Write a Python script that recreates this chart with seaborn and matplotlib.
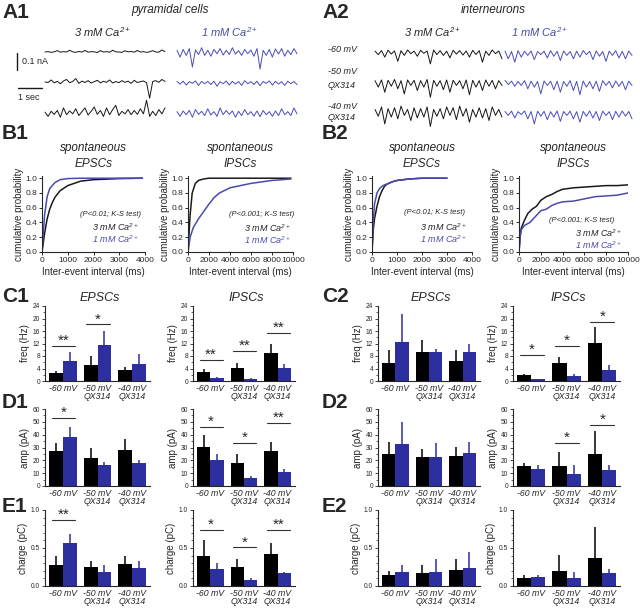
import numpy as np
import pandas as pd
import seaborn as sns
import matplotlib.pyplot as plt
from matplotlib.ticker import MultipleLocator

# ---------------- data ----------------
groups = ['-60 mV', '-50 mV\nQX314', '-40 mV\nQX314']

# raw current traces (pA), 40 samples over 5 s
a1_black = [
    [0, 2, -2, 1, 8, -1, 2, 0, 10, 1, -2, 3, 0, 9, -1, 2, 1, -3, 8, 0, 2, -1, 10, 1, 0, -2, 7, 1, 3, -1, 9, 0, 2, -2, 1, 8, 0, -1, 12, 2],
    [0, -3, 12, -5, 4, -10, 6, 15, -4, 3, 20, -8, 5, -3, 8, -6, 2, 10, -5, 4, -2, 12, -6, 3, -4, 8, -2, 5, -8, 10, -3, 2, 6, -4, -95, 3, 8, -2, 15, 3],
    [5, -20, 10, -8, 15, -25, 30, -10, 12, -5, 25, -15, 8, 30, -12, 10, 35, -8, 15, -20, 30, -10, 20, 45, -15, 10, -5, 20, -10, 15, -8, 25, -5, 75, -20, 10, -15, 20, -5, 30],
]
a1_blue = [
    [10, -30, 15, -20, 20, -88, 12, -15, 25, -20, 10, -25, 15, -10, 20, -18, 10, -15, 25, -12, 8, -20, 15, -10, 12, -25, 20, -100, 10, -20, 15, -30, 18, -12, 20, -25, 10, -15, 20, -10],
    [3, -12, 5, -18, 2, -8, 6, -20, 3, -10, 4, -15, 5, -25, 2, -10, 6, -18, 4, -12, 3, -20, 8, -10, 2, -15, 5, -22, 3, -8, 6, -18, 4, -12, 2, -20, 5, -10, 3, -15],
    [8, -20, 12, -10, 15, -25, 20, -8, 10, -15, 25, -12, 8, -20, 30, -10, 15, -8, 12, -25, 10, -15, 20, -10, 8, -18, 12, -22, 15, -10, 8, -20, 12, -15, 25, -10, 8, -15, 30, -5],
]
a2_black = [
    [5, -15, 8, -30, 10, -12, 6, -55, 8, -20, 12, -10, 5, -25, 10, -8, 6, -70, 12, -15, 8, -20, 5, -35, 10, -12, 8, -18, 6, -30, 10, -15, 8, -60, 5, -20, 12, -10, 6, -40],
    [8, -30, 12, -60, 10, -25, 15, -40, 8, -70, 12, -20, 10, -50, 8, -30, 15, -90, 10, -25, 8, -45, 12, -60, 10, -20, 8, -40, 12, -75, 10, -30, 8, -50, 12, -25, 10, -40, 8, -20],
    [15, -25, 30, -70, 20, -30, 25, -40, 35, -20, 15, -50, 25, -35, 20, -30, 30, -85, 15, -25, 20, -40, 30, -20, 25, -45, 35, -25, 20, -60, 15, -30, 25, -35, 20, -50, 30, -20, 15, -30],
]
a2_blue = [
    [5, -40, 3, -60, 8, -30, 4, -20, 6, -45, 3, -15, 5, -35, 8, -25, 4, -50, 6, -20, 3, -40, 5, -30, 8, -15, 4, -45, 6, -25, 3, -55, 5, -20, 8, -35, 4, -40, 6, -20],
    [10, -15, 5, -25, 3, -20, 8, -40, 5, -30, 3, -70, 6, -20, 4, -45, 5, -60, 3, -25, 8, -50, 4, -75, 6, -30, 3, -40, 5, -55, 8, -20, 4, -35, 6, -25, 3, -45, 5, -20],
    [3, -20, 5, -35, 2, -15, 6, -40, 3, -70, 5, -25, 4, -45, 2, -30, 6, -55, 3, -20, 5, -40, 2, -60, 4, -25, 6, -35, 3, -50, 5, -20, 2, -45, 4, -30, 6, -25, 3, -40],
]

# cumulative distributions (interval ms, probability)
b1_epsc_x3 = [0, 100, 200, 300, 400, 500, 700, 1000, 1500, 2000, 3000, 3900]
b1_epsc_y3 = [0, 0.25, 0.45, 0.58, 0.67, 0.74, 0.83, 0.9, 0.96, 0.98, 0.995, 1.0]
b1_epsc_x1 = [0, 100, 200, 300, 500, 700, 1000, 1500, 3900]
b1_epsc_y1 = [0, 0.5, 0.75, 0.86, 0.94, 0.98, 0.995, 1.0, 1.0]
b1_ipsc_x3 = [0, 200, 400, 700, 1000, 1500, 2000, 9800]
b1_ipsc_y3 = [0, 0.5, 0.8, 0.93, 0.97, 0.99, 1.0, 1.0]
b1_ipsc_x1 = [0, 200, 500, 1000, 1500, 2000, 2500, 3000, 4000, 5000, 6000, 7000, 8000, 9000, 9800]
b1_ipsc_y1 = [0, 0.2, 0.33, 0.45, 0.55, 0.65, 0.74, 0.8, 0.87, 0.9, 0.93, 0.95, 0.97, 0.98, 0.99]
b2_epsc_x3 = [0, 50, 100, 200, 300, 400, 500, 600, 800, 1000, 1500, 2000, 3000]
b2_epsc_y3 = [0, 0.3, 0.45, 0.62, 0.75, 0.83, 0.89, 0.92, 0.95, 0.97, 0.99, 1.0, 1.0]
b2_epsc_x1 = [0, 50, 100, 200, 300, 400, 500, 600, 800, 1000, 1500, 2000, 3000]
b2_epsc_y1 = [0, 0.4, 0.65, 0.8, 0.86, 0.89, 0.91, 0.92, 0.95, 0.97, 0.99, 1.0, 1.0]
b2_ipsc_x3 = [0, 100, 200, 500, 800, 1200, 1600, 2000, 2500, 3000, 3500, 4000, 5000, 6000, 7000, 8000, 9000, 10000]
b2_ipsc_y3 = [0, 0.2, 0.32, 0.43, 0.52, 0.58, 0.62, 0.7, 0.75, 0.78, 0.82, 0.85, 0.87, 0.88, 0.89, 0.9, 0.9, 0.91]
b2_ipsc_x1 = [0, 100, 200, 500, 1000, 1500, 2000, 2500, 3000, 3500, 4000, 5000, 6000, 7000, 8000, 9000, 10000]
b2_ipsc_y1 = [0, 0.2, 0.3, 0.36, 0.4, 0.48, 0.56, 0.58, 0.63, 0.66, 0.68, 0.69, 0.72, 0.75, 0.76, 0.77, 0.8]

# bar means and SEM (3 mM / 1 mM Ca)
c1_epsc_3mM = [2.5, 5.2, 3.4]; c1_epsc_3mM_sem = [0.8, 2.8, 1.2]
c1_epsc_1mM = [6.3, 11.5, 5.6]; c1_epsc_1mM_sem = [3.1, 4.6, 3.0]
c1_ipsc_3mM = [2.8, 4.1, 9.0]; c1_ipsc_3mM_sem = [0.9, 1.6, 2.7]
c1_ipsc_1mM = [0.95, 0.7, 4.1]; c1_ipsc_1mM_sem = [0.2, 0.15, 1.4]
c2_epsc_3mM = [5.7, 9.2, 6.4]; c2_epsc_3mM_sem = [4.2, 3.8, 3.5]
c2_epsc_1mM = [12.5, 9.4, 9.4]; c2_epsc_1mM_sem = [9.0, 1.0, 2.4]
c2_ipsc_3mM = [1.9, 5.7, 12.3]; c2_ipsc_3mM_sem = [0.4, 2.1, 5.0]
c2_ipsc_1mM = [0.65, 1.5, 3.4]; c2_ipsc_1mM_sem = [0.1, 0.8, 1.6]
d1_epsc_3mM = [27.3, 22.1, 27.9]; d1_epsc_3mM_sem = [6.3, 7.3, 9.1]
d1_epsc_1mM = [37.8, 16.1, 18.0]; d1_epsc_1mM_sem = [8.2, 2.6, 2.6]
d1_ipsc_3mM = [30.5, 18.2, 27.3]; d1_ipsc_3mM_sem = [9.1, 7.1, 7.1]
d1_ipsc_1mM = [20.6, 6.3, 10.9]; d1_ipsc_1mM_sem = [4.7, 1.2, 2.1]
d2_epsc_3mM = [25.3, 22.7, 23.2]; d2_epsc_3mM_sem = [9.1, 6.5, 7.3]
d2_epsc_1mM = [33.0, 22.7, 25.8]; d2_epsc_1mM_sem = [17.0, 10.9, 8.6]
d2_ipsc_3mM = [15.4, 15.6, 25.3]; d2_ipsc_3mM_sem = [2.6, 11.0, 17.4]
d2_ipsc_1mM = [13.5, 9.1, 12.2]; d2_ipsc_1mM_sem = [3.2, 7.6, 4.5]
e1_epsc_3mM = [0.27, 0.25, 0.29]; e1_epsc_3mM_sem = [0.12, 0.08, 0.10]
e1_epsc_1mM = [0.56, 0.19, 0.235]; e1_epsc_1mM_sem = [0.13, 0.09, 0.095]
e1_ipsc_3mM = [0.39, 0.245, 0.42]; e1_ipsc_3mM_sem = [0.22, 0.105, 0.14]
e1_ipsc_1mM = [0.22, 0.085, 0.17]; e1_ipsc_1mM_sem = [0.08, 0.025, 0.01]
e2_epsc_3mM = [0.14, 0.17, 0.21]; e2_epsc_3mM_sem = [0.06, 0.10, 0.14]
e2_epsc_1mM = [0.18, 0.19, 0.24]; e2_epsc_1mM_sem = [0.09, 0.16, 0.21]
e2_ipsc_3mM = [0.11, 0.20, 0.37]; e2_ipsc_3mM_sem = [0.03, 0.21, 0.40]
e2_ipsc_1mM = [0.12, 0.10, 0.17]; e2_ipsc_1mM_sem = [0.02, 0.08, 0.06]

# significance (group, line height, stars)
c1_epsc_sig = [(0, 11.2, '**'), (1, 18.1, '*')]
c1_ipsc_sig = [(0, 6.7, '**'), (1, 9.7, '**'), (2, 15.5, '**')]
c2_ipsc_sig = [(0, 8.3, '*'), (1, 11.3, '*'), (2, 18.9, '*')]
d1_epsc_sig = [(0, 53, '*')]
d1_ipsc_sig = [(0, 46, '*'), (1, 33.5, '*'), (2, 49, '**')]
d2_ipsc_sig = [(1, 33.5, '*'), (2, 47.5, '*')]
e1_epsc_sig = [(0, 0.87, '**')]
e1_ipsc_sig = [(0, 0.74, '*'), (1, 0.51, '*'), (2, 0.74, '**')]

# ---------------- style ----------------
sns.set_theme(style='ticks')
plt.rcParams['font.family'] = ['Liberation Sans', 'DejaVu Sans']
plt.rcParams['mathtext.fontset'] = 'custom'
plt.rcParams['mathtext.rm'] = 'Liberation Sans:italic'
plt.rcParams['mathtext.it'] = 'Liberation Sans:italic'
plt.rcParams['axes.linewidth'] = 0.8

BLACK = '#000000'
BLUE = '#2d2f9f'
TBLUE = '#4a4cbc'
LBLUE = '#4a4aae'
CA3 = '3 mM Ca$^{2+}$'
CA1 = '1 mM Ca$^{2+}$'

W, H = 640, 610
fig = plt.figure(figsize=(6.4, 6.1), dpi=100)


def px_axes(l, t, r, b):
    return fig.add_axes([l / W, 1 - b / H, (r - l) / W, (b - t) / H])


def px_text(x, y, s, **kw):
    kw.setdefault('ha', 'center')
    kw.setdefault('va', 'center')
    fig.text(x / W, 1 - y / H, s, **kw)


# panel letters
for lab, x, y in [('A1', 2, 12), ('A2', 322, 12), ('B1', 2, 134), ('B2', 322, 134),
                  ('C1', 2, 296), ('C2', 322, 296), ('D1', 2, 402), ('D2', 322, 402),
                  ('E1', 2, 506), ('E2', 322, 506)]:
    px_text(x, y, lab, ha='left', fontsize=15, fontweight='bold')

# ---------------- A: traces ----------------
PA_PER_PX = 5.88


def trace_axes(l, r, t0px, pxs):
    ax = px_axes(l, 38, r, 128)
    ax.set_xlim((l - t0px) / pxs, (r - t0px) / pxs)
    ax.set_ylim(-(128 - 38) * PA_PER_PX, 0)
    ax.axis('off')
    return ax


def draw_traces(ax, rows_black, rows_blue, blue_start, row_px):
    for vals_k, vals_b, ypx in zip(rows_black, rows_blue, row_px):
        base = -(ypx - 38) * PA_PER_PX
        t = np.linspace(0, 5, len(vals_k))
        ax.plot(t, base + np.array(vals_k), color='#151515', lw=0.7)
        ax.plot(blue_start + t, base + np.array(vals_b), color=TBLUE, lw=0.7)


ax_a1 = trace_axes(8, 305, 45, 24.0)
draw_traces(ax_a1, a1_black, a1_blue, (177 - 45) / 24.0, [52, 82, 113])
# scale bars
ax_a1.plot([(17 - 45) / 24.0] * 2, [-(53 - 38) * PA_PER_PX, -(53 - 38) * PA_PER_PX - 100], color='k', lw=1)
ax_a1.plot([(18 - 45) / 24.0, (18 - 45) / 24.0 + 1], [-(88 - 38) * PA_PER_PX] * 2, color='k', lw=1)
px_text(22, 62, '0.1 nA', ha='left', fontsize=6.5)
px_text(18, 98, '1 sec', ha='left', fontsize=6.5)
px_text(170, 10, 'pyramidal cells', fontsize=8.5, style='italic')
px_text(103, 32, CA3, fontsize=8, style='italic')
px_text(230, 32, CA1, fontsize=8, style='italic', color=LBLUE)

ax_a2 = trace_axes(372, 636, 375, 25.4)
draw_traces(ax_a2, a2_black, a2_blue, (505 - 375) / 25.4, [52, 82, 112])
px_text(493, 10, 'interneurons', fontsize=8.5, style='italic')
px_text(433, 32, CA3, fontsize=8, style='italic')
px_text(540, 32, CA1, fontsize=8, style='italic', color=LBLUE)
for txt, y in [('-60 mV', 50), ('-50 mV', 72), ('QX314', 85), ('-40 mV', 106), ('QX314', 118)]:
    px_text(328, y, txt, ha='left', fontsize=6.5, style='italic')

# ---------------- B: cumulative ----------------


def cum_panel(ax, x3, y3, x1, y1, xmax, xticks):
    sns.lineplot(x=x3, y=y3, color='k', lw=1.1, estimator=None, sort=False, ax=ax)
    sns.lineplot(x=x1, y=y1, color=LBLUE, lw=1.1, estimator=None, sort=False, ax=ax)
    ax.set_xlim(0, xmax)
    ax.set_ylim(0, 1.03)
    ax.set_xticks(xticks)
    ax.set_yticks([0, 0.2, 0.4, 0.6, 0.8, 1.0])
    ax.set_yticklabels(['0.0', '0.2', '0.4', '0.6', '0.8', '1.0'])
    ax.tick_params(labelsize=6, length=2.5, width=0.7, pad=1)
    ax.set_xlabel('Inter-event interval (ms)', fontsize=7, labelpad=2)
    ax.set_ylabel('cumulative probability', fontsize=7, labelpad=1)
    sns.despine(ax=ax)


b_specs = [
    (42, 145, b1_epsc_x3, b1_epsc_y3, b1_epsc_x1, b1_epsc_y1, 4000, [0, 1000, 2000, 3000, 4000], 'EPSCs', '(P<0.01; K-S test)', (110, 214), (115, 227)),
    (188, 293, b1_ipsc_x3, b1_ipsc_y3, b1_ipsc_x1, b1_ipsc_y1, 10000, [0, 2000, 4000, 6000, 8000, 10000], 'IPSCs', '(P<0.001; K-S test)', (262, 214), (267, 228)),
    (372, 472, b2_epsc_x3, b2_epsc_y3, b2_epsc_x1, b2_epsc_y1, 4000, [0, 1000, 2000, 3000, 4000], 'EPSCs', '(P<0.01; K-S test)', (435, 213), (443, 227)),
    (519, 628, b2_ipsc_x3, b2_ipsc_y3, b2_ipsc_x1, b2_ipsc_y1, 10000, [0, 2000, 4000, 6000, 8000, 10000], 'IPSCs', '(P<0.001; K-S test)', (582, 221), (598, 233)),
]
for l, r, x3, y3, x1, y1, xmax, xt, ttl, ptxt, ppos, cpos in b_specs:
    ax = px_axes(l, 176, r, 252)
    cum_panel(ax, x3, y3, x1, y1, xmax, xt)
    px_text((l + r) / 2, 148, 'spontaneous', fontsize=8.5, style='italic')
    px_text((l + r) / 2, 164, ttl, fontsize=8.5, style='italic')
    px_text(ppos[0], ppos[1], ptxt, fontsize=5.5, style='italic')
    px_text(cpos[0], cpos[1], CA3, fontsize=6.5, style='italic')
    px_text(cpos[0], cpos[1] + 12, CA1, fontsize=6.5, style='italic', color=LBLUE)

# ---------------- C-E: bars ----------------


def bar_panel(ax, m3, s3, m1, s1, sig, ymax, major, minor, ylabel, fmt):
    df = pd.DataFrame({'group': groups * 2,
                       'cond': ['3 mM'] * 3 + ['1 mM'] * 3,
                       'value': m3 + m1})
    sns.barplot(data=df, x='group', y='value', hue='cond', hue_order=['3 mM', '1 mM'],
                palette={'3 mM': BLACK, '1 mM': BLUE}, errorbar=None, saturation=1,
                width=0.8, legend=False, linewidth=0, ax=ax)
    for cont, sems, col in zip(ax.containers, [s3, s1], [BLACK, BLUE]):
        for bar, e in zip(cont, sems):
            xc = bar.get_x() + bar.get_width() / 2
            ax.vlines(xc, bar.get_height(), bar.get_height() + e, color=col, lw=1.1)
    for g, y, stars in sig:
        ax.plot([g - 0.32, g + 0.36], [y, y], color='#333333', lw=0.8)
        ax.annotate(stars, (g + 0.02, y), xytext=(0, -1.5), textcoords='offset points',
                    ha='center', va='bottom', fontsize=11, annotation_clip=False)
    ax.set_xlim(-0.52, 2.52)
    ax.set_ylim(0, ymax)
    ax.yaxis.set_major_locator(MultipleLocator(major))
    ax.yaxis.set_minor_locator(MultipleLocator(minor))
    ax.yaxis.set_major_formatter(fmt)
    ax.tick_params(axis='y', which='major', labelsize=4.8, length=2.5, width=0.6, pad=1)
    ax.tick_params(axis='y', which='minor', length=1.5, width=0.5)
    ax.tick_params(axis='x', length=0, labelsize=6.3, pad=2)
    for t in ax.get_xticklabels():
        t.set_fontstyle('italic')
        t.set_linespacing(0.95)
    ax.set_xlabel('')
    ax.set_ylabel(ylabel, fontsize=7, labelpad=2)
    sns.despine(ax=ax)


cols = [(45, 150), (193, 295), (378, 480), (513, 620)]
rows = [(306, 381, 24, 4, 2, 'freq (Hz)', '{x:.0f}'),
        (409, 486, 60, 10, 5, 'amp (pA)', '{x:.0f}'),
        (510, 586, 1.0, 0.5, 0.1, 'charge (pC)', '{x:.1f}')]
bar_data = [
    [(c1_epsc_3mM, c1_epsc_3mM_sem, c1_epsc_1mM, c1_epsc_1mM_sem, c1_epsc_sig),
     (c1_ipsc_3mM, c1_ipsc_3mM_sem, c1_ipsc_1mM, c1_ipsc_1mM_sem, c1_ipsc_sig),
     (c2_epsc_3mM, c2_epsc_3mM_sem, c2_epsc_1mM, c2_epsc_1mM_sem, []),
     (c2_ipsc_3mM, c2_ipsc_3mM_sem, c2_ipsc_1mM, c2_ipsc_1mM_sem, c2_ipsc_sig)],
    [(d1_epsc_3mM, d1_epsc_3mM_sem, d1_epsc_1mM, d1_epsc_1mM_sem, d1_epsc_sig),
     (d1_ipsc_3mM, d1_ipsc_3mM_sem, d1_ipsc_1mM, d1_ipsc_1mM_sem, d1_ipsc_sig),
     (d2_epsc_3mM, d2_epsc_3mM_sem, d2_epsc_1mM, d2_epsc_1mM_sem, []),
     (d2_ipsc_3mM, d2_ipsc_3mM_sem, d2_ipsc_1mM, d2_ipsc_1mM_sem, d2_ipsc_sig)],
    [(e1_epsc_3mM, e1_epsc_3mM_sem, e1_epsc_1mM, e1_epsc_1mM_sem, e1_epsc_sig),
     (e1_ipsc_3mM, e1_ipsc_3mM_sem, e1_ipsc_1mM, e1_ipsc_1mM_sem, e1_ipsc_sig),
     (e2_epsc_3mM, e2_epsc_3mM_sem, e2_epsc_1mM, e2_epsc_1mM_sem, []),
     (e2_ipsc_3mM, e2_ipsc_3mM_sem, e2_ipsc_1mM, e2_ipsc_1mM_sem, [])],
]
for (top, bot, ymax, major, minor, ylab, fmt), row in zip(rows, bar_data):
    for (l, r), (m3, s3, m1, s1, sig) in zip(cols, row):
        ax = px_axes(l, top, r, bot)
        bar_panel(ax, m3, s3, m1, s1, sig, ymax, major, minor, ylab, fmt)

for (l, r), ttl in zip(cols, ['EPSCs', 'IPSCs', 'EPSCs', 'IPSCs']):
    px_text((l + r) / 2 + 2, 298, ttl, fontsize=9, style='italic')

fig.savefig('out.png', dpi=100)
